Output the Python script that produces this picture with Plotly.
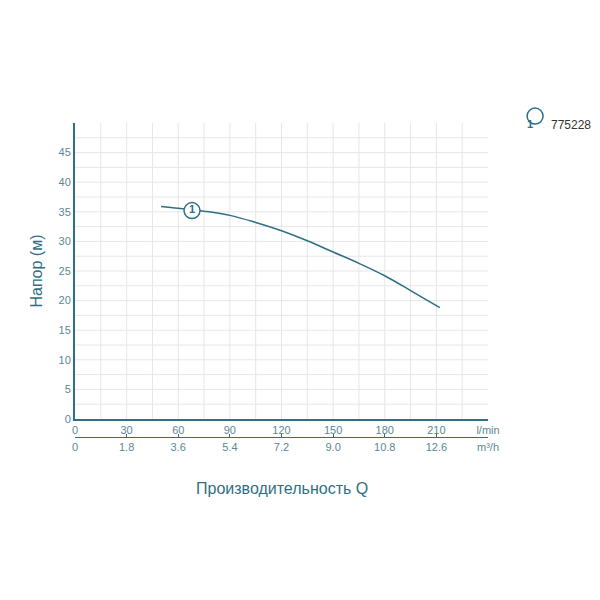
import plotly.graph_objects as go

q_lmin = [50, 60, 75, 90, 105, 120, 135, 150, 165, 180, 195, 212]
head_m = [35.9, 35.6, 35.1, 34.4, 33.2, 31.8, 30.1, 28.2, 26.3, 24.2, 21.7, 18.8]
x1_ticks = [0, 30, 60, 90, 120, 150, 180, 210, 240]
x1_labels = ["0", "30", "60", "90", "120", "150", "180", "210", "l/min"]
x2_ticks = [0, 1.8, 3.6, 5.4, 7.2, 9.0, 10.8, 12.6, 14.4]
x2_labels = ["0", "1.8", "3.6", "5.4", "7.2", "9.0", "10.8", "12.6", "m³/h"]
y_ticks = [0, 5, 10, 15, 20, 25, 30, 35, 40, 45]
series_name = "775228"
label_pos = (68, 35.2)

axc = "#2f6f84"
tc = "#5b8796"
fig = go.Figure()
fig.add_trace(go.Scatter(x=q_lmin, y=head_m, mode="lines", line=dict(color=axc, width=1.5, shape="spline"), showlegend=False))
fig.add_trace(go.Scatter(x=[label_pos[0]], y=[label_pos[1]], mode="markers+text", text=["<b>1</b>"],
                         marker=dict(size=16, color="white", line=dict(color=axc, width=1.5)),
                         textfont=dict(color=axc, size=11), showlegend=False))
fig.add_trace(go.Scatter(x=[0], y=[0], xaxis="x2", mode="markers", marker=dict(opacity=0), showlegend=False, hoverinfo="skip"))
grid = "#e6e6e6"
fig.update_layout(
    width=600, height=600, plot_bgcolor="white", paper_bgcolor="white",
    margin=dict(l=67, r=120, t=115, b=120),
    font=dict(family="Liberation Sans, Arial", color=tc, size=11),
    xaxis=dict(range=[0, 240], tickvals=x1_ticks, ticktext=x1_labels, showgrid=False, automargin=False,
               showline=True, linecolor=axc, linewidth=2, zeroline=False, ticks=""),
    xaxis2=dict(range=[0, 14.4], tickvals=x2_ticks, ticktext=x2_labels, overlaying="x", side="bottom",
                anchor="free", position=0.14, showline=True, linecolor=axc, linewidth=1, automargin=False,
                ticks="inside", ticklen=3, tickcolor=axc, showgrid=False, zeroline=False),
    yaxis=dict(range=[0, 50], tickvals=y_ticks, domain=[0.189, 1], showgrid=False, automargin=False,
               showline=True, linecolor=axc, linewidth=2, zeroline=False,
               title=dict(text="Напор (м)", font=dict(size=16, color=axc), standoff=12)),
    shapes=[dict(type="line", xref="x", yref="y", x0=v, x1=v, y0=0, y1=50, line=dict(color=grid, width=1), layer="below")
            for v in range(15, 240, 15)] +
           [dict(type="line", xref="x", yref="y", x0=0, x1=240, y0=v, y1=v, line=dict(color=grid, width=1), layer="below")
            for v in [x * 2.5 for x in range(1, 20)]] +
           [dict(type="circle", xref="paper", yref="paper", xsizemode="pixel", ysizemode="pixel",
                 xanchor=1.114, yanchor=1.019, x0=-8, x1=8, y0=-8, y1=8,
                 line=dict(color=axc, width=1.5), fillcolor="white")],
    annotations=[
        dict(text="Производительность Q", xref="paper", yref="paper", x=0.5, y=-0.03, showarrow=False,
             font=dict(size=16, color=axc), xanchor="center"),
        dict(text="<b>1</b>", xref="paper", yref="paper", x=1.114, y=1.019, showarrow=False,
             font=dict(size=11, color=axc)),
        dict(text=series_name, xref="paper", yref="paper", x=1.148, y=1.019, showarrow=False, xanchor="left",
             font=dict(size=12, color="#333")),
    ],
)
fig.write_html("out.html")
